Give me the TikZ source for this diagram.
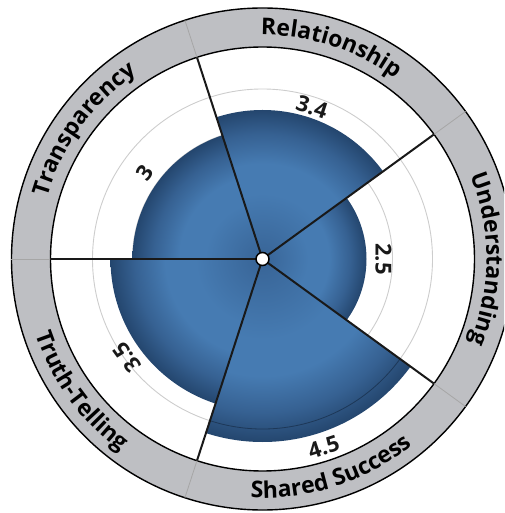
\documentclass[tikz,border=0pt]{standalone}
\usepackage{fontspec}
\setmainfont{Open Sans}
\usetikzlibrary{decorations.text}
\definecolor{ringgray}{RGB}{190,191,195}
\definecolor{gridgray}{RGB}{205,205,205}
\definecolor{blueA}{RGB}{56,100,150}
\definecolor{blueB}{RGB}{70,123,178}
\definecolor{blueC}{RGB}{54,97,146}
\definecolor{blueD}{RGB}{36,70,110}
\pgfdeclareradialshading{scoreshade}{\pgfpointorigin}{color(0bp)=(blueA); color(11bp)=(blueB); color(16bp)=(blueB); color(21bp)=(blueC); color(25bp)=(blueD); color(50bp)=(blueD)}
\newcommand{\ringfont}{\fontsize{23}{23}\selectfont\bfseries}
\newcommand{\scorefont}{\fontsize{22}{22}\selectfont\bfseries}
\tikzset{
x=1pt, y=1pt, % one unit is one pixel of the sketch
ring/.style={draw=black, line width=1.4pt, fill=ringgray, even odd rule}, % the grey band round the chart
grid/.style={draw=gridgray, line width=0.9pt}, % the light circles of the scale
gridover/.style={draw=blueD!80!black, line width=0.8pt}, % the scale circle seen on the widest wedge
spoke/.style={draw=black!90, line width=2pt}, % the lines between the sectors
ringspoke/.style={draw=black!35, line width=0.8pt}, % the same lines crossing the band
hub/.style={circle, draw=black, line width=1.5pt, fill=white, inner sep=0pt, minimum size=13pt}, % the white dot in the middle
score/.style={font=\scorefont, text=black!90, inner sep=0pt}, % the value of a sector
ringtext/.style={decorate, decoration={text along path, text align=center, text={|\ringfont|#1}}}, % the name of a sector, bent round the band
}

\begin{document}
\begin{tikzpicture}
      \useasboundingbox (-262.5,-254) rectangle (241.5,259);
      \clip (-262.5,-254) rectangle (241.5,259);
      \coordinate (o) at (0,0);
      \coordinate (s1) at (180:212);
      \coordinate (s2) at (108:212);
      \coordinate (s3) at (36:212);
      \coordinate (s4) at (-36:212);
      \coordinate (s5) at (-108:212);
      \coordinate (s1o) at (180:251);
      \coordinate (s2o) at (108:251);
      \coordinate (s3o) at (36:251);
      \coordinate (s4o) at (-36:251);
      \coordinate (s5o) at (-108:251);

      \path[ring] (o) circle (251) (o) circle (212);
      \draw[grid] (o) circle (130) (o) circle (170);

      \begin{scope}
        \clip (o) -- (108:300) arc (108:180:300) -- cycle;
        \shade[shading=scoreshade] (o) circle (130);
      \end{scope}
      \begin{scope}
        \clip (o) -- (36:300) arc (36:108:300) -- cycle;
        \shade[shading=scoreshade] (o) circle (149);
      \end{scope}
      \begin{scope}
        \clip (o) -- (-36:300) arc (-36:36:300) -- cycle;
        \shade[shading=scoreshade] (o) circle (104);
      \end{scope}
      \begin{scope}
        \clip (o) -- (-108:300) arc (-108:-36:300) -- cycle;
        \shade[shading=scoreshade] (o) circle (183);
      \end{scope}
      \begin{scope}
        \clip (o) -- (180:300) arc (180:252:300) -- cycle;
        \shade[shading=scoreshade] (o) circle (152);
      \end{scope}
      \draw[gridover] (-108:170) arc (-108:-36:170);

      \draw[spoke] (o) -- (s1);
      \draw[spoke] (o) -- (s2);
      \draw[spoke] (o) -- (s3);
      \draw[spoke] (o) -- (s4);
      \draw[spoke] (o) -- (s5);
      \draw[ringspoke] (s1) -- (s1o);
      \draw[ringspoke] (s2) -- (s2o);
      \draw[ringspoke] (s3) -- (s3o);
      \draw[ringspoke] (s4) -- (s4o);
      \draw[ringspoke] (s5) -- (s5o);

      \path[ringtext=Transparency] (180:224) arc (180:108:224);
      \path[ringtext=Relationship] (108:224) arc (108:36:224);
      \path[ringtext=Understanding] (36:224) arc (36:-36:224);
      \path[ringtext=Shared Success] (-108:239) arc (-108:-36:239);
      \path[ringtext=Truth-Telling] (180:239) arc (180:252:239);

      \node[score, rotate=54] (transparency) at (144:146) {3};
      \node[score, rotate=-18] (relationship) at (72:160) {3.4};
      \node[score, rotate=-90] (understanding) at (0:121) {2.5};
      \node[score, rotate=18] (shared) at (-72:198) {4.5};
      \node[score, rotate=126] (truth) at (216:168) {3.5};

      \node[hub] (hub) at (o) {};
    \end{tikzpicture}
\end{document}
